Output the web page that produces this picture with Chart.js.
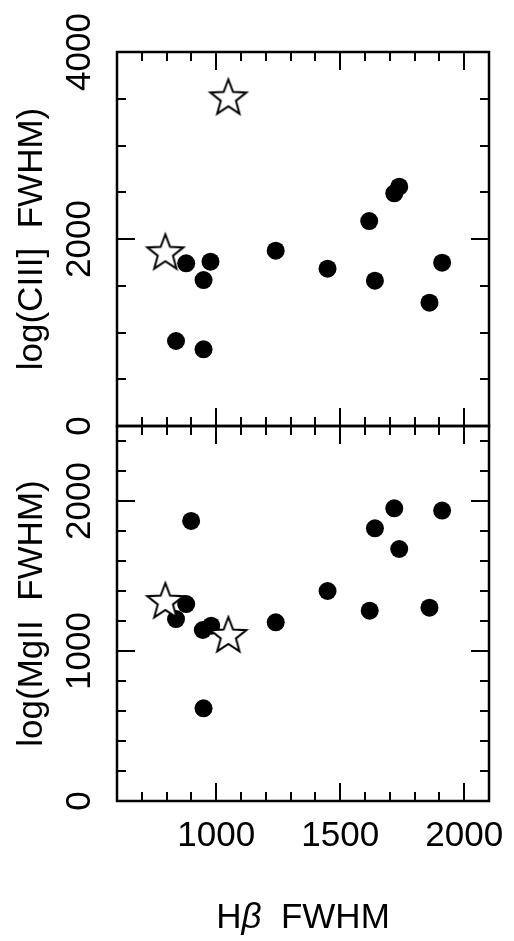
<!DOCTYPE html>
<html>
<head>
<meta charset="utf-8">
<script src="https://cdn.jsdelivr.net/npm/chart.js@4.4.1/dist/chart.umd.min.js"></script>
<style>
  html, body { margin: 0; padding: 0; background: #fff; }
  #wrap { position: relative; width: 514px; height: 941px; }
  canvas { position: absolute; left: 0; top: 0; }
</style>
</head>
<body>
<div id="wrap">
  <canvas id="topPanel" width="514" height="941"></canvas>
  <canvas id="bottomPanel" width="514" height="941"></canvas>
</div>
<script>
// top panel: CIII] FWHM against H-beta FWHM
const hbCiii = [879, 977, 949, 838, 949, 1240, 1449, 1617, 1640, 1718, 1738, 1860, 1911];
const ciiiFwhm = [1740, 1757, 1561, 909, 820, 1875, 1682, 2192, 1554, 2489, 2559, 1319, 1747];
const hbCiiiStars = [795, 1049];
const ciiiStars = [1858, 3515];

// bottom panel: MgII FWHM against H-beta FWHM
const hbMgii = [899, 879, 838, 946, 980, 949, 1240, 1449, 1619, 1640, 1718, 1738, 1860, 1911];
const mgiiFwhm = [1867, 1313, 1213, 1140, 1169, 618, 1191, 1400, 1269, 1818, 1951, 1680, 1289, 1936];
const hbMgiiStars = [795, 1049];
const mgiiStars = [1333, 1107];

const xTickLabels = [1000, 1500, 2000];
const ciiiTickLabels = [0, 2000, 4000];
const mgiiTickLabels = [0, 1000, 2000];

const FONT = '"Liberation Sans", Arial, sans-serif';
Chart.defaults.color = '#000';
Chart.defaults.font.family = FONT;

// open star marker, white inside
function makeStar() {
  const c = document.createElement('canvas');
  c.width = 44; c.height = 44;
  const g = c.getContext('2d');
  const R = 19, r = 8;
  g.beginPath();
  for (let i = 0; i < 10; i++) {
    const rad = i % 2 === 0 ? R : r;
    const ang = -Math.PI / 2 + i * Math.PI / 5;
    const px = 22 + rad * Math.cos(ang), py = 23 + rad * Math.sin(ang);
    if (i === 0) g.moveTo(px, py); else g.lineTo(px, py);
  }
  g.closePath();
  g.fillStyle = '#fff';
  g.fill();
  g.lineWidth = 2;
  g.lineJoin = 'miter';
  g.strokeStyle = '#000';
  g.stroke();
  return c;
}
const starImg = makeStar();

const toPoints = (xs, ys) => xs.map((v, i) => ({x: v, y: ys[i]}));

// box, inward ticks on all four sides and rotated y labels
const framePlugin = {
  id: 'frame',
  afterDatasetsDraw(chart, args, opts) {
    const {ctx, chartArea: a, scales: {x, y}} = chart;
    ctx.save();
    ctx.strokeStyle = '#000';
    ctx.lineWidth = 2;
    ctx.beginPath();
    for (let v = 700; v <= 2000; v += 100) {
      const px = Math.round(x.getPixelForValue(v));
      const len = v % 500 === 0 ? 18 : 9;
      ctx.moveTo(px, a.bottom); ctx.lineTo(px, a.bottom - len);
      ctx.moveTo(px, a.top); ctx.lineTo(px, a.top + len);
    }
    for (let v = opts.yMinor; v < opts.yMax; v += opts.yMinor) {
      const py = Math.round(y.getPixelForValue(v));
      const len = v % opts.yMajor === 0 ? 18 : 9;
      ctx.moveTo(a.left, py); ctx.lineTo(a.left + len, py);
      ctx.moveTo(a.right, py); ctx.lineTo(a.right - len, py);
    }
    ctx.stroke();
    ctx.lineWidth = 2.5;
    ctx.strokeRect(a.left, a.top, a.right - a.left, a.bottom - a.top);

    ctx.fillStyle = '#000';
    ctx.font = '35px ' + FONT;
    ctx.textAlign = 'center';
    ctx.textBaseline = 'middle';
    opts.labels.forEach(v => {
      ctx.save();
      ctx.translate(80, y.getPixelForValue(v));
      ctx.rotate(-Math.PI / 2);
      ctx.fillText(String(v), 0, 0);
      ctx.restore();
    });

    if (opts.xTitle) {
      // "Hβ  FWHM" with an italic beta
      const parts = [['H', ''], ['\u03B2', 'italic '], ['  FWHM', '']];
      let w = 0;
      parts.forEach(p => { ctx.font = p[1] + '35px ' + FONT; w += ctx.measureText(p[0]).width; });
      let cx = (a.left + a.right) / 2 - w / 2;
      ctx.textAlign = 'left';
      ctx.textBaseline = 'alphabetic';
      parts.forEach(p => {
        ctx.font = p[1] + '35px ' + FONT;
        ctx.fillText(p[0], cx, 928);
        cx += ctx.measureText(p[0]).width;
      });
    }
    ctx.restore();
  }
};

function panel(id, cfg) {
  return new Chart(document.getElementById(id), {
    type: 'scatter',
    data: {
      datasets: [
        {
          label: 'stars',
          data: cfg.stars,
          pointStyle: starImg,
          pointRadius: 19
        },
        {
          label: 'objects',
          data: cfg.points,
          pointStyle: 'circle',
          pointRadius: 9,
          backgroundColor: '#000',
          borderWidth: 0
        }
      ]
    },
    options: {
      responsive: false,
      animation: false,
      events: [],
      layout: {padding: cfg.padding},
      plugins: {
        legend: {display: false},
        tooltip: {enabled: false},
        frame: cfg.frame
      },
      scales: {
        x: cfg.xScale,
        y: {
          min: 0,
          max: cfg.frame.yMax,
          grid: {display: false},
          border: {display: false},
          ticks: {display: false},
          title: {
            display: true,
            text: cfg.yTitle,
            font: {size: 35, family: FONT},
            padding: {top: 11, bottom: 0}
          },
          afterFit: s => { s.width = 117; s.paddingTop = 0; s.paddingBottom = 0; }
        }
      }
    },
    plugins: [framePlugin]
  });
}

panel('topPanel', {
  points: toPoints(hbCiii, ciiiFwhm),
  stars: toPoints(hbCiiiStars, ciiiStars),
  padding: {top: 52, right: 25, bottom: 515, left: 0},
  yTitle: 'log(CIII]  FWHM)',
  xScale: {min: 600, max: 2100, display: false},
  frame: {yMax: 4000, yMinor: 500, yMajor: 2000, labels: ciiiTickLabels}
});

panel('bottomPanel', {
  points: toPoints(hbMgii, mgiiFwhm),
  stars: toPoints(hbMgiiStars, mgiiStars),
  padding: {top: 426, right: 25, bottom: 0, left: 0},
  yTitle: 'log(MgII  FWHM)',
  xScale: {
    min: 600,
    max: 2100,
    grid: {display: false, drawTicks: false},
    border: {display: false},
    ticks: {
      font: {size: 35, family: FONT},
      padding: 14,
      autoSkip: false,
      maxRotation: 0,
      callback: v => String(v)
    },
    afterBuildTicks: s => { s.ticks = xTickLabels.map(v => ({value: v})); },
    afterFit: s => { s.height = 140; s.paddingLeft = 0; s.paddingRight = 0; }
  },
  frame: {yMax: 2500, yMinor: 200, yMajor: 1000, labels: mgiiTickLabels, xTitle: true}
});
</script>
</body>
</html>
